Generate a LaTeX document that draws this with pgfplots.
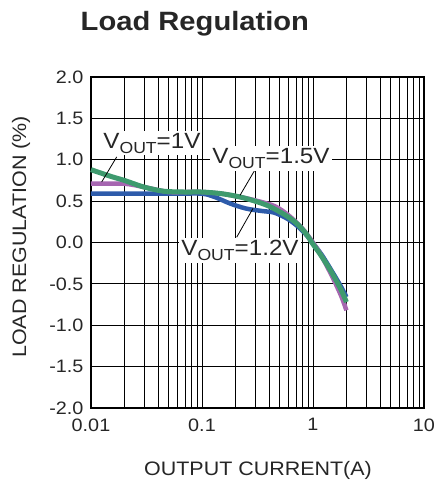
\documentclass[border=0pt]{standalone}
\usepackage{pgfplots}
\pgfplotsset{compat=1.18}
\usepackage{fontspec}
\setmainfont[FakeStretch=1.1]{Liberation Sans}
\definecolor{cblue}{HTML}{2D5BAA}
\definecolor{cpurple}{HTML}{A666B0}
\definecolor{cgreen}{HTML}{3E9A6E}
\newcommand{\vout}[1]{V\raisebox{-0.24em}{\fontsize{16}{16}\selectfont OUT}=#1}
\begin{document}
\begin{tikzpicture}
\useasboundingbox (0,0) rectangle (437pt,482pt);
\begin{axis}[
  at={(91pt,74pt)}, anchor=south west,
  scale only axis, width=333pt, height=331pt,
  xmode=log, xmin=0.01, xmax=10, ymin=-2, ymax=2,
  xtick={0.01,0.1,1,10}, xticklabels={0.01,0.1,1,10},
  ytick={-2,-1.5,-1,-0.5,0,0.5,1,1.5,2},
  yticklabels={-2.0,-1.5,-1.0,-0.5,0.0,0.5,1.0,1.5,2.0},
  grid=both,
  major grid style={black, line width=0.9pt},
  minor grid style={black, line width=0.6pt},
  major tick length=0pt, minor tick length=0pt,
  axis line style={black, line width=1.6pt},
  ticklabel style={font=\fontsize{18}{20}\selectfont, text=black!85},
  xticklabel style={yshift=-7pt},
  yticklabel style={xshift=-4pt},
  title={\bfseries Load Regulation},
  title style={font=\fontsize{26.5}{28}\selectfont, at={(rel axis cs:0.312,1.142)}, anchor=base, yshift=-7pt, text=black!85},
  xlabel={OUTPUT CURRENT(A)},
  xlabel style={font=\fontsize{19.5}{22}\selectfont, at={(rel axis cs:0.5015,-0.205)}, anchor=base, text=black!85},
  ylabel={LOAD REGULATION (\%)},
  ylabel style={font=\fontsize{19.5}{22}\selectfont, at={(rel axis cs:-0.21,0.517)}, anchor=center, text=black!85},
  clip=false,
]
\addplot[cblue, line width=4.5pt, smooth] coordinates {
(0.01,0.59)(0.03,0.59)(0.06,0.59)(0.1,0.59)(0.13,0.55)(0.18,0.47)(0.25,0.41)(0.35,0.38)(0.45,0.36)(0.6,0.28)(0.75,0.18)(0.9,0.07)(1.0,-0.01)(1.2,-0.15)(1.5,-0.36)(1.8,-0.54)(2.0,-0.66)};
\addplot[cpurple, line width=4.5pt, smooth] coordinates {
(0.01,0.71)(0.02,0.71)(0.03,0.67)(0.05,0.61)(0.07,0.61)(0.1,0.61)(0.15,0.59)(0.22,0.55)(0.3,0.51)(0.45,0.44)(0.6,0.33)(0.8,0.17)(1.0,0.0)(1.2,-0.17)(1.5,-0.42)(1.8,-0.65)(2.0,-0.82)};
\addplot[cgreen, line width=5pt, smooth] coordinates {
(0.01,0.88)(0.015,0.80)(0.02,0.75)(0.03,0.67)(0.045,0.62)(0.07,0.61)(0.1,0.61)(0.15,0.59)(0.22,0.55)(0.3,0.50)(0.4,0.44)(0.55,0.34)(0.7,0.24)(0.85,0.12)(1.0,-0.02)(1.2,-0.17)(1.5,-0.38)(1.8,-0.58)(2.0,-0.72)};
\draw[black, line width=0.8pt] (axis cs:0.01248,0.731) -- (axis cs:0.01704,1.034);
\draw[black, line width=0.8pt] (axis cs:0.22,0.57) -- (axis cs:0.311,0.913);
\draw[black, line width=0.8pt] (axis cs:0.288,0.412) -- (axis cs:0.2054,0.064);
\node[fill=white, inner sep=2pt, font=\fontsize{22}{24}\selectfont, text=black!85] at (axis cs:0.0354,1.2) {\vout{1V}};
\node[fill=white, inner sep=2pt, font=\fontsize{22}{24}\selectfont, text=black!85] at (axis cs:0.4183,1.018) {\vout{1.5V}};
\node[fill=white, inner sep=2pt, font=\fontsize{22}{24}\selectfont, text=black!85] at (axis cs:0.22,-0.097) {\vout{1.2V}};
\end{axis}
\end{tikzpicture}
\end{document}
